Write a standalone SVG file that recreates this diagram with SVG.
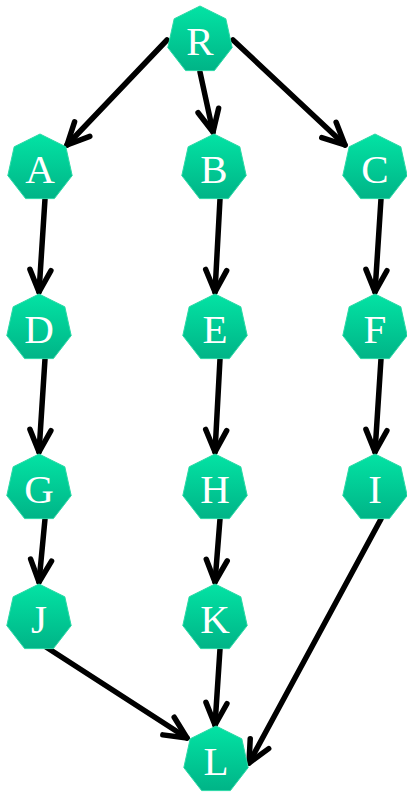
<svg xmlns="http://www.w3.org/2000/svg" width="407" height="793" viewBox="0 0 407 793">
<style>
.n text{font-family:"Liberation Serif","Times New Roman",serif;font-size:41px;fill:#fff;text-anchor:middle}
.e line{stroke:#000;stroke-width:5.5;stroke-linecap:round;marker-end:url(#arr)}
</style>
<defs>
<linearGradient id="g" x1="0" y1="0" x2="0" y2="1">
<stop offset="0" stop-color="#03E3A4"/>
<stop offset="1" stop-color="#00B487"/>
</linearGradient>
<polygon id="hept" points="0,-34 25.8,-21.2 32.2,7.6 14.4,30.6 -14.4,30.6 -32.2,7.6 -25.8,-21.2" fill="url(#g)" stroke="#2BD9A6" stroke-width="1"/>
<marker id="arr" markerUnits="userSpaceOnUse" markerWidth="30" markerHeight="30" refX="0" refY="0" orient="auto" overflow="visible">
<path d="M-22,-10.5 L0,0 L-22,10.5" fill="none" stroke="#000" stroke-width="5.5" stroke-linecap="round" stroke-linejoin="round"/>
</marker>
</defs>
<g class="e" id="edges">
<line x1="167" y1="40" x2="67" y2="145"/>
<line x1="200" y1="72" x2="213" y2="132"/>
<line x1="233" y1="40" x2="345" y2="145"/>
<line x1="45" y1="199" x2="39" y2="292"/>
<line x1="220" y1="199" x2="215" y2="292"/>
<line x1="381" y1="199" x2="375" y2="292"/>
<line x1="45" y1="359" x2="39" y2="452"/>
<line x1="220" y1="359" x2="215" y2="452"/>
<line x1="381" y1="359" x2="375" y2="452"/>
<line x1="45" y1="519" x2="39" y2="582"/>
<line x1="220" y1="519" x2="215" y2="582"/>
<line x1="46" y1="647" x2="187" y2="738"/>
<line x1="220" y1="649" x2="215" y2="725"/>
<line x1="381" y1="519" x2="249" y2="763"/>
</g>
<g class="n" id="R" transform="translate(200,40)"><use href="#hept"/><text y="15">R</text></g>
<g class="n" id="A" transform="translate(40,168)"><use href="#hept"/><text y="15">A</text></g>
<g class="n" id="B" transform="translate(214,168)"><use href="#hept"/><text y="15">B</text></g>
<g class="n" id="C" transform="translate(375,168)"><use href="#hept"/><text y="15">C</text></g>
<g class="n" id="D" transform="translate(39,328)"><use href="#hept"/><text y="15">D</text></g>
<g class="n" id="E" transform="translate(215,328)"><use href="#hept"/><text y="15">E</text></g>
<g class="n" id="F" transform="translate(375,328)"><use href="#hept"/><text y="15">F</text></g>
<g class="n" id="G" transform="translate(39,488)"><use href="#hept"/><text y="15">G</text></g>
<g class="n" id="H" transform="translate(215,488)"><use href="#hept"/><text y="15">H</text></g>
<g class="n" id="I" transform="translate(375,488)"><use href="#hept"/><text y="15">I</text></g>
<g class="n" id="J" transform="translate(39,618)"><use href="#hept"/><text y="15">J</text></g>
<g class="n" id="K" transform="translate(215,618)"><use href="#hept"/><text y="15">K</text></g>
<g class="n" id="L" transform="translate(216,760)"><use href="#hept"/><text y="15">L</text></g>
</svg>
